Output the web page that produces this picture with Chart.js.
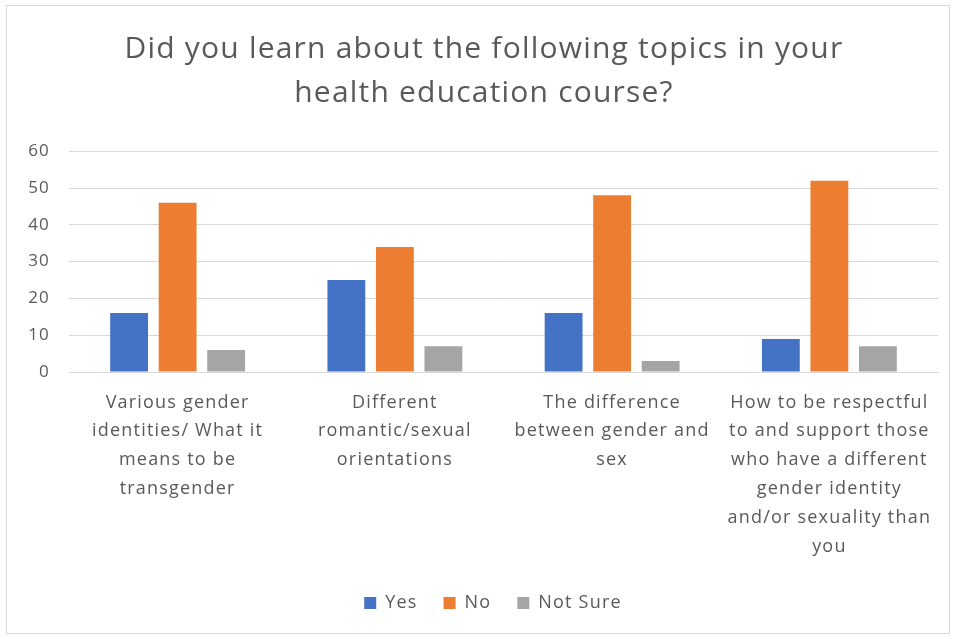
<!DOCTYPE html>
<html>
<head>
<meta charset="utf-8">
<script src="https://cdn.jsdelivr.net/npm/chart.js@4"></script>
<style>
  html, body { margin: 0; padding: 0; background: #ffffff; }
  #wrap { position: relative; width: 954px; height: 637px; }
  #frame {
    position: absolute; left: 6px; top: 5px; width: 942px; height: 627px;
    border: 1px solid #d9d9d9; pointer-events: none;
  }
</style>
</head>
<body>
<div id="wrap">
  <canvas id="chart" width="954" height="637"></canvas>
  <div id="frame"></div>
</div>
<script>
const CATEGORIES = [
  ['Various gender', 'identities/ What it', 'means to be', 'transgender'],
  ['Different', 'romantic/sexual', 'orientations'],
  ['The difference', 'between gender and', 'sex'],
  ['How to be respectful', 'to and support those', 'who have a different', 'gender identity', 'and/or sexuality than', 'you'],
];
const YES = [16, 25, 16, 9];
const NO = [46, 34, 48, 52];
const NOT_SURE = [6, 7, 3, 7];
const TITLE_LINES = ['Did you learn about the following topics in your', 'health education course?'];

const TEXT_COLOR = '#595959';
const GRID_COLOR = '#d9d9d9';
const FONT_FAMILY = "'Open Sans', sans-serif";
const LETTER_SPACING = '1.2px';
const TITLE_SHIFT = 5;
const LEGEND_SHIFT = 14;

const BAR_STYLE = {
  barPercentage: 0.78,
  categoryPercentage: 0.67,
};

Chart.defaults.font.family = FONT_FAMILY;
Chart.defaults.color = TEXT_COLOR;

// the reference text is set quite loose, so widen the canvas text a bit
const letterSpacingPlugin = {
  id: 'letterSpacing',
  beforeUpdate: (chart) => { chart.ctx.letterSpacing = LETTER_SPACING; },
  beforeDraw: (chart) => { chart.ctx.letterSpacing = LETTER_SPACING; },
};

// title and legend sit a little right of centre in the original
const nudgePlugin = {
  id: 'nudge',
  afterLayout: (chart) => {
    if (chart.titleBlock) {
      chart.titleBlock.left += TITLE_SHIFT;
      chart.titleBlock.right += TITLE_SHIFT;
    }
    if (chart.legend) {
      chart.legend.left += LEGEND_SHIFT;
      chart.legend.right += LEGEND_SHIFT;
    }
  },
};

const config = {
  type: 'bar',
  data: {
    labels: CATEGORIES,
    datasets: [
      { label: 'Yes', data: YES, backgroundColor: '#4472C4', ...BAR_STYLE },
      { label: 'No', data: NO, backgroundColor: '#ED7D31', ...BAR_STYLE },
      { label: 'Not Sure', data: NOT_SURE, backgroundColor: '#A5A5A5', ...BAR_STYLE },
    ],
  },
  options: {
    responsive: false,
    animation: false,
    layout: {
      padding: { left: 20, right: 16, top: 20, bottom: 15 },
    },
    plugins: {
      title: {
        display: true,
        text: TITLE_LINES,
        color: TEXT_COLOR,
        font: { size: 30, weight: 'normal', lineHeight: 1.47 },
        padding: { top: 7, bottom: 36 },
      },
      legend: {
        position: 'bottom',
        labels: {
          boxWidth: 12,
          boxHeight: 12,
          padding: 26,
          font: { size: 18 },
          color: TEXT_COLOR,
        },
      },
      tooltip: { enabled: false },
    },
    scales: {
      x: {
        grid: { display: false },
        border: { display: true, color: GRID_COLOR, width: 1 },
        ticks: {
          autoSkip: false,
          maxRotation: 0,
          padding: 8,
          font: { size: 18, lineHeight: 1.6 },
          color: TEXT_COLOR,
        },
        afterFit: (scale) => { scale.height = 196; },
      },
      y: {
        min: 0,
        max: 60,
        border: { display: false },
        grid: { color: GRID_COLOR, drawTicks: false, lineWidth: 1 },
        ticks: {
          stepSize: 10,
          padding: 19,
          font: { size: 17 },
          color: TEXT_COLOR,
        },
        afterFit: (scale) => { scale.width = 49; },
      },
    },
  },
  plugins: [letterSpacingPlugin, nudgePlugin],
};

new Chart(document.getElementById('chart'), config);
</script>
</body>
</html>
